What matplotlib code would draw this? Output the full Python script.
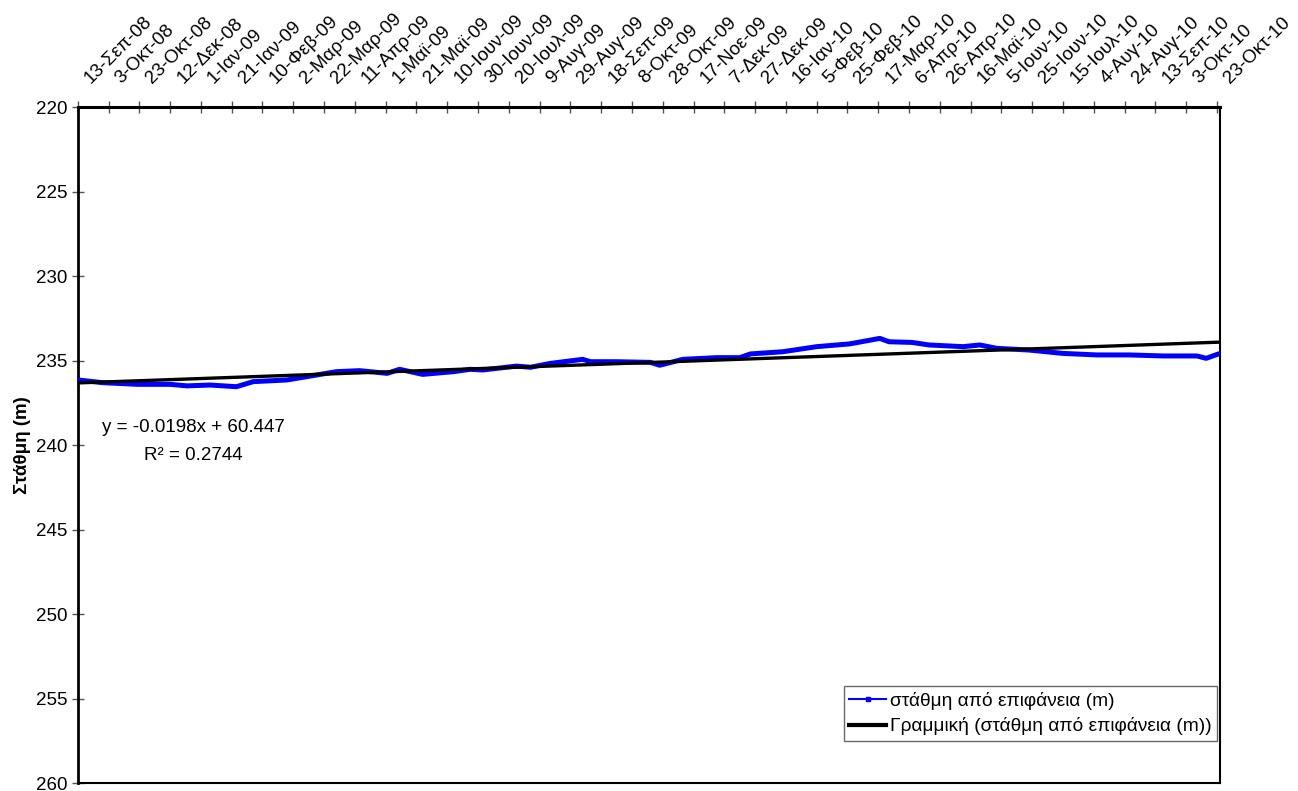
import matplotlib
matplotlib.use("Agg")
import matplotlib.pyplot as plt
from matplotlib.lines import Line2D
from matplotlib.transforms import ScaledTranslation
import numpy as np

plt.rcParams['font.family'] = ['Liberation Sans', 'DejaVu Sans']

# Category tick labels (every 20 categories)
tick_labels = [
    "13-Σεπ-08", "3-Οκτ-08", "23-Οκτ-08", "12-Δεκ-08", "1-Ιαν-09", "21-Ιαν-09",
    "10-Φεβ-09", "2-Μαρ-09", "22-Μαρ-09", "11-Απρ-09", "1-Μαϊ-09", "21-Μαϊ-09",
    "10-Ιουν-09", "30-Ιουν-09", "20-Ιουλ-09", "9-Αυγ-09", "29-Αυγ-09", "18-Σεπ-09",
    "8-Οκτ-09", "28-Οκτ-09", "17-Νοε-09", "7-Δεκ-09", "27-Δεκ-09", "16-Ιαν-10",
    "5-Φεβ-10", "25-Φεβ-10", "17-Μαρ-10", "6-Απρ-10", "26-Απρ-10", "16-Μαϊ-10",
    "5-Ιουν-10", "25-Ιουν-10", "15-Ιουλ-10", "4-Αυγ-10", "24-Αυγ-10", "13-Σεπ-10",
    "3-Οκτ-10", "23-Οκτ-10",
]
tick_step = 20

# Series: category index and level (m)
obs_index = [0, 16, 39, 60, 71, 86, 103, 114, 136, 151, 168, 183, 201, 209, 224,
             244, 255, 263, 285, 294, 307, 328, 333, 350, 372, 378, 393, 415, 430,
             437, 458, 480, 501, 506, 521, 527, 542, 553, 575, 586, 597, 618, 640,
             662, 683, 705, 727, 733, 741]
obs_level = [236.15, 236.31, 236.41, 236.41, 236.50, 236.45, 236.55, 236.25, 236.15,
             235.92, 235.66, 235.60, 235.76, 235.52, 235.82, 235.66, 235.52, 235.56,
             235.33, 235.40, 235.17, 234.93, 235.07, 235.07, 235.11, 235.28, 234.93,
             234.83, 234.83, 234.61, 234.48, 234.18, 234.02, 233.94, 233.69, 233.89,
             233.93, 234.08, 234.18, 234.08, 234.28, 234.38, 234.58, 234.67, 234.67,
             234.73, 234.73, 234.87, 234.61]

series_name = "στάθμη από επιφάνεια (m)"
trend_name = "Γραμμική (στάθμη από επιφάνεια (m))"
equation_line1 = "y = -0.0198x + 60.447"
equation_line2 = "R² = 0.2744"

FS = 13.5

fig = plt.figure(figsize=(12.98, 7.91), dpi=100)
ax = fig.add_axes([0.0599, 0.0101, 0.8800, 0.8546])

x = np.array(obs_index, dtype=float)
yv = np.array(obs_level)
ax.plot(x, yv, color='#0000FF', lw=3.6, solid_capstyle='round',
        solid_joinstyle='round', zorder=3)

# linear trend over the full category range
coef = np.polyfit(x, yv, 1)
xt = np.array([0, 742.0])
ax.plot(xt, np.polyval(coef, xt), color='black', lw=2.4, zorder=4)

ax.set_xlim(0, 742)
ax.set_ylim(260, 220)
ax.set_yticks(np.arange(220, 261, 5))
ax.tick_params(axis='y', direction='inout', length=9, width=1, color='#555555',
               labelsize=FS, pad=3)

ticks = np.arange(len(tick_labels)) * tick_step
ax.set_xticks(ticks)
ax.xaxis.tick_top()
ax.set_xticklabels(tick_labels, rotation=45, ha='left', va='bottom',
                   rotation_mode='anchor', fontsize=FS)
ax.tick_params(axis='x', direction='inout', length=9, width=1, color='#555555',
               pad=10)
offset = ScaledTranslation(0.16, 0, fig.dpi_scale_trans)
for lab in ax.get_xticklabels():
    lab.set_transform(lab.get_transform() + offset)

for s in ax.spines.values():
    s.set_color('black')
    s.set_linewidth(1.5)
ax.spines['top'].set_linewidth(2.2)
ax.spines['left'].set_linewidth(2.0)

ax.set_ylabel("Στάθμη (m)", fontsize=FS, fontweight='bold')
ax.yaxis.set_label_coords(-0.041, 0.50)

ax.text(0.101, 0.5266, equation_line1, transform=ax.transAxes, fontsize=FS,
        ha='center', va='center')
ax.text(0.101, 0.4852, equation_line2, transform=ax.transAxes, fontsize=FS,
        ha='center', va='center')

handles = [
    Line2D([], [], color='#0000FF', lw=1.5, marker='s', markersize=3.5,
           markerfacecolor='#0000FF', label=series_name),
    Line2D([], [], color='black', lw=3, label=trend_name),
]
leg = ax.legend(handles=handles, loc='lower right', bbox_to_anchor=(0.9975, 0.062),
                fontsize=13.8, frameon=True, fancybox=False, edgecolor='#444444',
                handlelength=1.9, handletextpad=0.2, borderpad=0.3,
                labelspacing=0.4, borderaxespad=0)
leg.get_frame().set_linewidth(1.0)

fig.savefig("out.png", dpi=100)
